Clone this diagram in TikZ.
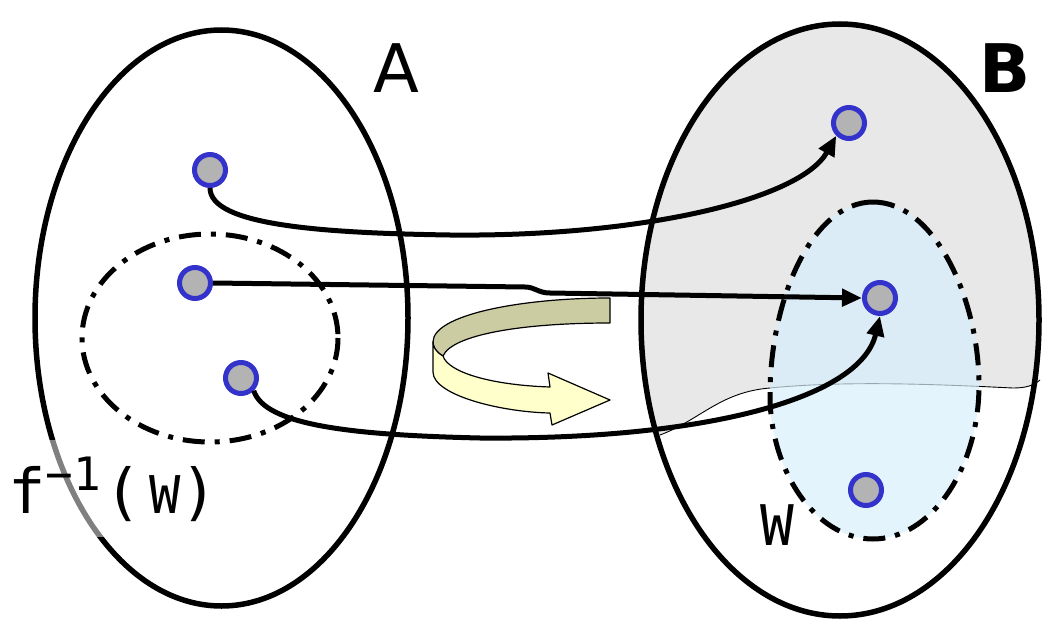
\documentclass[tikz,border=0pt]{standalone}
\usepackage{fontspec}
\newfontfamily\dvs{DejaVu Sans}
\newfontfamily\dvm{DejaVu Sans Mono}
\usetikzlibrary{arrows.meta}
\definecolor{dotfill}{HTML}{B3B3B3}
\definecolor{dotline}{HTML}{3333CC}
\definecolor{olive}{HTML}{CCCCA3}
\definecolor{paleyel}{HTML}{FFFFCC}
\definecolor{greyreg}{HTML}{E8E8E8}
\definecolor{wblue}{RGB}{215,239,252}
\tikzset{
  setline/.style={line width=5.5pt},
  dashdot/.style={line width=5pt, dash pattern=on 22pt off 10pt on 5pt off 10pt},
  pt/.style={circle, minimum size=31pt, inner sep=0pt, fill=dotfill, draw=dotline, line width=5pt},
  conn/.style={line width=5pt, -{Triangle[length=20pt,width=17pt]}},
  ribbon/.style={draw=black, line width=1.2pt, line join=round},
}
\begin{document}
\begin{tikzpicture}[x=1pt,y=-1pt]
\useasboundingbox (0,0) rectangle (1042,621);
% grey region of B
\begin{scope}
  \clip (630,0) -- (630,440) -- (660,435) .. controls (700,420) and (720,392) .. (770,388)
        .. controls (850,380) and (950,385) .. (1013,388) .. controls (1025,388) and (1033,386) .. (1042,380) -- (1042,0) -- cycle;
  \fill[greyreg] (840,320) ellipse [x radius=199, y radius=296];
\end{scope}
\draw[line width=0.9pt] (660,435) .. controls (700,420) and (720,392) .. (770,388)
        .. controls (850,380) and (950,385) .. (1013,388) .. controls (1025,388) and (1033,386) .. (1040,380);
% W region
\path[fill=wblue, fill opacity=0.7] (873,202) .. controls (935,202) and (979,300) .. (979,385)
   .. controls (979,470) and (930,539) .. (873,539) .. controls (815,539) and (770,470) .. (770,395)
   .. controls (770,300) and (812,202) .. (873,202) -- cycle;
\draw[dashdot] (873,202) .. controls (935,202) and (979,300) .. (979,385)
   .. controls (979,470) and (930,539) .. (873,539) .. controls (815,539) and (770,470) .. (770,395)
   .. controls (770,300) and (812,202) .. (873,202) -- cycle;
% sets
\draw[setline] (840,320) ellipse [x radius=199, y radius=296];
\draw[setline] (221.5,318) ellipse [x radius=186.5, y radius=288];
\draw[dashdot] (210,338) ellipse [x radius=128, y radius=104];
% half-transparent backing of the label f^{-1}(W)
\fill[white, opacity=0.5] (6,440) rectangle (150,537);
% twisted arrow
\draw[ribbon, fill=olive] (610,298) -- (610,323) .. controls (520,323) and (452,335) .. (443,356)
   .. controls (436,352) and (433,347) .. (433,342) .. controls (433,315) and (520,298) .. (610,298) -- cycle;
\draw[ribbon, fill=paleyel] (433,342) -- (433,372) .. controls (433,395) and (500,412) .. (550,413)
   -- (552,425) -- (610,400) -- (548,373) -- (550,387) .. controls (490,385) and (448,372) .. (443,356)
   .. controls (436,352) and (433,347) .. (433,342) -- cycle;
% points
\node[pt] (a1) at (210,170) {};
\node[pt] (a2) at (195,283) {};
\node[pt] (a3) at (241,378) {};
\node[pt] (b1) at (849,123) {};
\node[pt] (b2) at (880,298) {};
\node[pt] (b3) at (866,490) {};
% connectors
\draw[conn] (a1.south) .. controls (210,225) and (320,233) .. (450,235) .. controls (640,237) and (800,200) .. (b1.south west);
\draw[conn] (a2.east) -- (525,287) .. controls (535,287) and (538,293) .. (550,293) -- (b2.west);
\draw[conn] (a3.south east) .. controls (265,425) and (350,435) .. (480,438) .. controls (700,440) and (860,400) .. (b2.south);
% labels
\node[anchor=base, inner sep=0pt] (lA) at (396,92) {\dvs\fontsize{67}{70}\selectfont A};
\node[anchor=base, inner sep=0pt] (lB) at (1005,92) {\dvs\bfseries\fontsize{67}{70}\selectfont B};
\node[anchor=base, inner sep=0pt] (lW) at (777,545) {\dvm\fontsize{56}{60}\selectfont W};
\node[anchor=base west, inner sep=0pt] (lf) at (8,513)
  {\dvm\fontsize{62}{64}\selectfont f\raisebox{23pt}{\fontsize{46}{48}\selectfont −1}\kern4pt(\kern7pt{\fontsize{52}{54}\selectfont W})};
\end{tikzpicture}
\end{document}
